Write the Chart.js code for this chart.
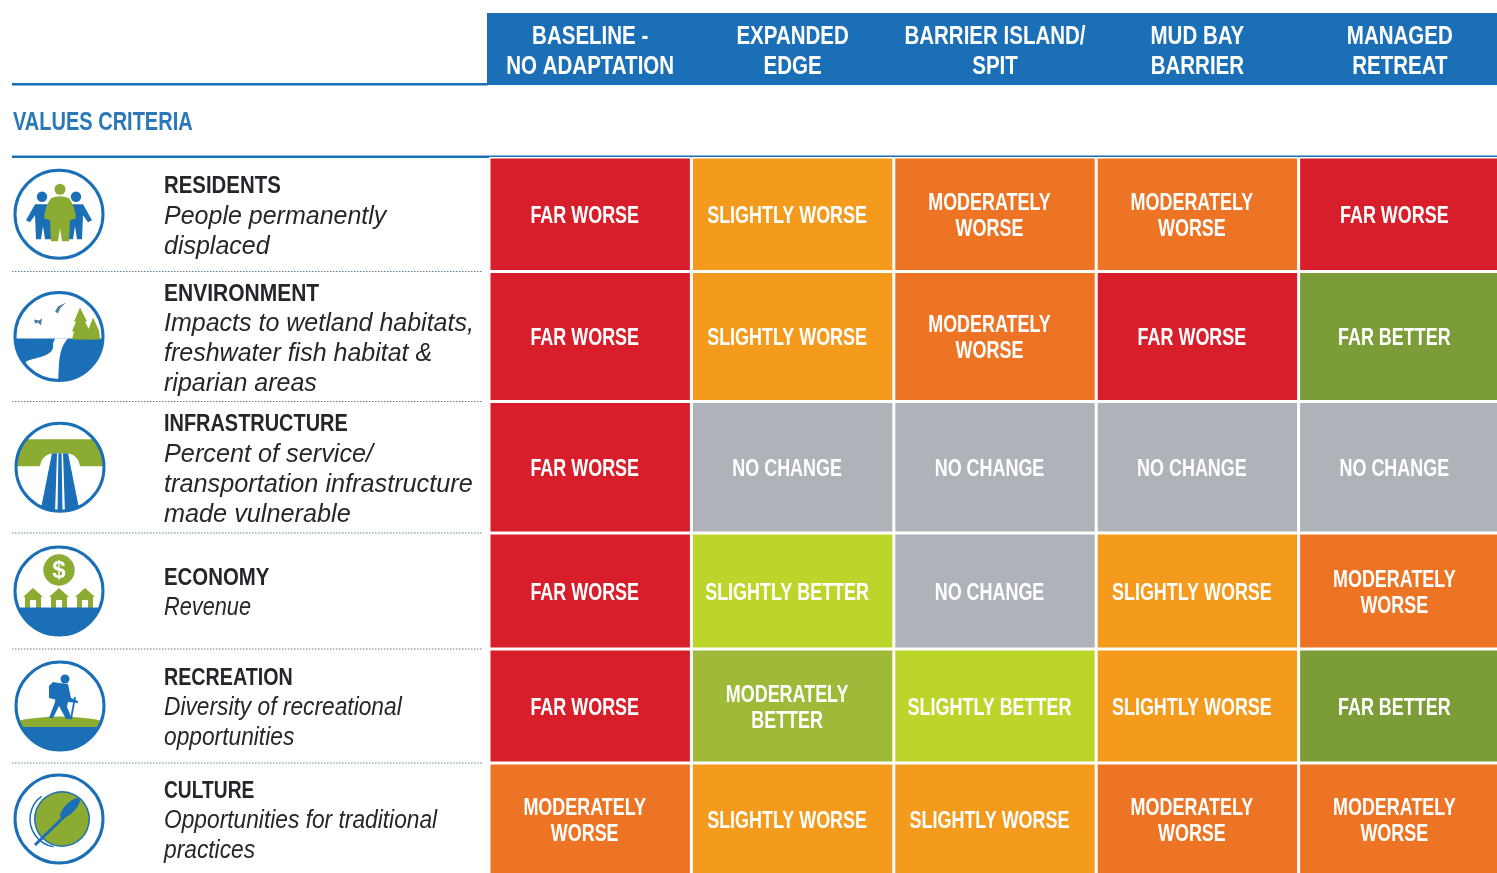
<!DOCTYPE html>
<html>
<head>
<meta charset="utf-8">
<title>Values criteria</title>
<script src="https://cdn.jsdelivr.net/npm/chart.js@4/dist/chart.umd.js"></script>
<style>
  html, body { margin: 0; padding: 0; background: #fff; overflow: hidden; }
  canvas { display: block; }
</style>
</head>
<body>
<canvas id="chart" width="1510" height="880"></canvas>
<script>
const categories = [
  ['BASELINE -', 'NO ADAPTATION'],
  ['EXPANDED', 'EDGE'],
  ['BARRIER ISLAND/', 'SPIT'],
  ['MUD BAY', 'BARRIER'],
  ['MANAGED', 'RETREAT']
];

const criteria = ['RESIDENTS', 'ENVIRONMENT', 'INFRASTRUCTURE', 'ECONOMY', 'RECREATION', 'CULTURE'];
const criteriaNotes = [
  ['People permanently', 'displaced'],
  ['Impacts to wetland habitats,', 'freshwater fish habitat &', 'riparian areas'],
  ['Percent of service/', 'transportation infrastructure', 'made vulnerable'],
  ['Revenue'],
  ['Diversity of recreational', 'opportunities'],
  ['Opportunities for traditional', 'practices']
];

const residents = ['FAR WORSE', 'SLIGHTLY WORSE', 'MODERATELY WORSE', 'MODERATELY WORSE', 'FAR WORSE'];
const environment = ['FAR WORSE', 'SLIGHTLY WORSE', 'MODERATELY WORSE', 'FAR WORSE', 'FAR BETTER'];
const infrastructure = ['FAR WORSE', 'NO CHANGE', 'NO CHANGE', 'NO CHANGE', 'NO CHANGE'];
const economy = ['FAR WORSE', 'SLIGHTLY BETTER', 'NO CHANGE', 'SLIGHTLY WORSE', 'MODERATELY WORSE'];
const recreation = ['FAR WORSE', 'MODERATELY BETTER', 'SLIGHTLY BETTER', 'SLIGHTLY WORSE', 'FAR BETTER'];
const culture = ['MODERATELY WORSE', 'SLIGHTLY WORSE', 'SLIGHTLY WORSE', 'MODERATELY WORSE', 'MODERATELY WORSE'];
const ratings = [residents, environment, infrastructure, economy, recreation, culture];

// row heights differ in the picture, so rows span ranges on the y scale
const rowSpans = [114.5, 130, 131.5, 116, 114, 112];

const ratingColors = {
  'FAR WORSE': '#d81e2b',
  'MODERATELY WORSE': '#ec7424',
  'SLIGHTLY WORSE': '#f49b1e',
  'NO CHANGE': '#aeb3b9',
  'SLIGHTLY BETTER': '#bdd52a',
  'MODERATELY BETTER': '#9fb938',
  'FAR BETTER': '#7c9c38'
};
const ratingLines = {
  'MODERATELY WORSE': ['MODERATELY', 'WORSE'],
  'MODERATELY BETTER': ['MODERATELY', 'BETTER']
};

const BLUE = '#1a6fb7';
const GREEN = '#8cab33';
const SANS = '"Liberation Sans", sans-serif';

// how far each row's text is squeezed to match the condensed original
const titleSqueeze = [0.85, 0.875, 0.83, 0.85, 0.82, 0.8];
const noteSqueeze = [1, 1, 1.01, 0.87, 0.91, 0.91];

let rowStart = 0;
const rowRanges = rowSpans.map(h => {
  const r = [rowStart, rowStart + h];
  rowStart += h;
  return r;
});

const datasets = ratings.map((row, i) => ({
  label: criteria[i],
  data: row.map(() => rowRanges[i]),
  backgroundColor: row.map(r => ratingColors[r]),
  borderColor: '#fff',
  borderWidth: 1.5,
  borderSkipped: false,
  inflateAmount: 0,
  grouped: false,
  barPercentage: 1,
  categoryPercentage: 1
}));

// fillText's maxWidth squeezes the face horizontally, above 1 it does nothing
function squeezed(ctx, text, x, y, squeeze) {
  const width = ctx.measureText(text).width;
  if (squeeze > 1) {
    ctx.save();
    ctx.translate(x, y);
    ctx.scale(squeeze, 1);
    ctx.fillText(text, 0, 0);
    ctx.restore();
  } else {
    ctx.fillText(text, x, y, width * squeeze);
  }
}

// icon helpers, coordinates relative to the circle centre
function shape(ctx, color, pts) {
  ctx.fillStyle = color;
  ctx.beginPath();
  pts.forEach((p, i) => i ? ctx.lineTo(p[0], p[1]) : ctx.moveTo(p[0], p[1]));
  ctx.closePath();
  ctx.fill();
}

function disc(ctx, color, x, y, r) {
  ctx.fillStyle = color;
  ctx.beginPath();
  ctx.arc(x, y, r, 0, Math.PI * 2);
  ctx.fill();
}

function sidePerson(ctx, dir) {
  disc(ctx, BLUE, dir * 17, -17.5, 5.2);
  shape(ctx, BLUE, [
    [dir * 8, -10], [dir * 24, -10], [dir * 33, 6], [dir * 29, 8], [dir * 24, 1],
    [dir * 23, 25], [dir * 18, 25], [dir * 16, 12], [dir * 14, 25], [dir * 8, 25]
  ]);
}

const iconDraw = [
  ctx => {
    sidePerson(ctx, -1);
    sidePerson(ctx, 1);
    disc(ctx, GREEN, 1, -25, 5.5);
    ctx.fillStyle = GREEN;
    ctx.beginPath();
    ctx.moveTo(-8, -16);
    ctx.quadraticCurveTo(1, -20, 10, -16);
    ctx.quadraticCurveTo(16, -8, 17, 4);
    ctx.lineTo(11, 6);
    ctx.lineTo(10, 27);
    ctx.lineTo(3, 27);
    ctx.lineTo(1, 14);
    ctx.lineTo(-1, 27);
    ctx.lineTo(-8, 27);
    ctx.lineTo(-9, 6);
    ctx.lineTo(-15, 4);
    ctx.quadraticCurveTo(-14, -8, -8, -16);
    ctx.closePath();
    ctx.fill();
  },
  ctx => {
    ctx.fillStyle = BLUE;
    ctx.fillRect(-45, 2, 90, 44);
    ctx.fillStyle = '#fff';
    ctx.beginPath();
    ctx.moveTo(-4, 2);
    ctx.lineTo(9, 2);
    ctx.bezierCurveTo(3, 8, 1, 16, 0, 27);
    ctx.lineTo(-1, 46);
    ctx.lineTo(-40, 46);
    ctx.lineTo(-33, 25);
    ctx.bezierCurveTo(-20, 20, -4, 20, -6, 7);
    ctx.closePath();
    ctx.fill();
    shape(ctx, GREEN, [[21, -29], [15, -15], [17, -15], [13, -5], [15, -5], [13, 3], [32, 3], [29, -5], [31, -5], [26, -15], [28, -15]]);
    shape(ctx, GREEN, [[34, -19], [29, -6], [28, 3], [41, 3], [40, -6]]);
    shape(ctx, '#4b7f9f', [[-4, -25], [-1, -30], [7, -34], [1, -28], [-1, -23]]);
    shape(ctx, '#4b7f9f', [[-25, -17], [-20, -16], [-17, -18], [-18, -11], [-21, -14], [-24, -13]]);
  },
  ctx => {
    ctx.fillStyle = GREEN;
    ctx.beginPath();
    ctx.moveTo(-45, -28);
    ctx.lineTo(45, -28);
    ctx.lineTo(45, -1);
    ctx.lineTo(20, -1);
    ctx.quadraticCurveTo(18, -14, 4, -14);
    ctx.lineTo(-4, -14);
    ctx.quadraticCurveTo(-18, -14, -20, -1);
    ctx.lineTo(-45, -1);
    ctx.closePath();
    ctx.fill();
    shape(ctx, BLUE, [[-8, -14], [8, -14], [20, 46], [-20, 46]]);
    shape(ctx, '#fff', [[-3, -14], [-1.6, -14], [-2.5, 46], [-5, 46]]);
    shape(ctx, '#fff', [[1.6, -14], [3, -14], [5, 46], [2.5, 46]]);
  },
  ctx => {
    disc(ctx, GREEN, 0, -21, 15.7);
    ctx.fillStyle = '#fff';
    ctx.font = 'bold 24px ' + SANS;
    ctx.textAlign = 'center';
    ctx.textBaseline = 'middle';
    ctx.fillText('$', 0, -20);
    [-26, 0, 26].forEach(x => {
      shape(ctx, GREEN, [[x, -3], [x + 10, 6], [x + 8, 6], [x + 8, 17], [x + 3, 17], [x + 3, 9], [x - 3, 9], [x - 3, 17], [x - 8, 17], [x - 8, 6], [x - 10, 6]]);
    });
    ctx.fillStyle = BLUE;
    ctx.fillRect(-46, 16.5, 92, 32);
  },
  ctx => {
    ctx.fillStyle = GREEN;
    ctx.beginPath();
    ctx.moveTo(-44, 15);
    ctx.quadraticCurveTo(0, 6, 44, 15);
    ctx.lineTo(44, 24);
    ctx.lineTo(-44, 24);
    ctx.closePath();
    ctx.fill();
    ctx.fillStyle = BLUE;
    ctx.fillRect(-46, 21, 92, 26);
    disc(ctx, BLUE, 5, -27, 4.5);
    shape(ctx, BLUE, [[-1, -23], [8, -22], [11, -8], [18, -5], [18, -3], [8, -4], [7, 1], [12, 13], [6, 13], [-1, 0], [-7, 12], [-11, 12], [-5, -4], [-4, -12]]);
    shape(ctx, BLUE, [[-7, -24], [-1, -23], [-3, -6], [-11, -8], [-11, -20]]);
    ctx.strokeStyle = BLUE;
    ctx.lineWidth = 1.8;
    ctx.beginPath();
    ctx.moveTo(15, -9);
    ctx.lineTo(11, 13);
    ctx.stroke();
  },
  ctx => {
    disc(ctx, BLUE, 3, 0, 28);
    disc(ctx, GREEN, 3, 0, 26.5);
    ctx.strokeStyle = BLUE;
    ctx.lineWidth = 1.5;
    ctx.beginPath();
    ctx.arc(-1, 0, 28, Math.PI * 0.55, Math.PI * 1.3);
    ctx.stroke();
    ctx.lineWidth = 3;
    ctx.beginPath();
    ctx.moveTo(-24, 26);
    ctx.lineTo(12, -9);
    ctx.stroke();
    ctx.fillStyle = BLUE;
    ctx.beginPath();
    ctx.ellipse(11, -11, 5, 13, Math.PI * 0.25, 0, Math.PI * 2);
    ctx.fill();
  }
];
const iconCenterX = [59, 59, 60, 59, 60, 59];

const tablePlugin = {
  id: 'table',
  beforeDraw(chart) {
    const { ctx, scales: { y }, chartArea } = chart;
    ctx.save();
    ctx.fillStyle = '#fff';
    ctx.fillRect(0, 0, chart.width, chart.height);

    // header band and rules
    ctx.fillStyle = BLUE;
    ctx.fillRect(487, 13, chart.width - 487, 72);
    ctx.fillRect(12, 83, 476, 2.5);
    ctx.fillRect(12, chartArea.top - 1.5, chart.width - 12, 2.5);

    ctx.fillStyle = '#2a78b8';
    ctx.font = 'bold 25px ' + SANS;
    ctx.textAlign = 'left';
    ctx.textBaseline = 'middle';
    squeezed(ctx, 'VALUES CRITERIA', 13, 123, 0.8);

    rowRanges.forEach((range, i) => {
      const mid = y.getPixelForValue((range[0] + range[1]) / 2);
      const lines = [criteria[i], ...criteriaNotes[i]];
      let ly = mid + 2.5 - (lines.length - 1) * 15;
      lines.forEach((line, k) => {
        ctx.fillStyle = '#23262b';
        ctx.font = (k === 0 ? 'bold 24px ' : 'italic 25px ') + SANS;
        ctx.textAlign = 'left';
        ctx.textBaseline = 'middle';
        squeezed(ctx, line, 164, ly, k === 0 ? titleSqueeze[i] : noteSqueeze[i]);
        ly += 30;
      });

      if (i < rowRanges.length - 1) {
        const sep = y.getPixelForValue(range[1]);
        ctx.strokeStyle = '#5f7f96';
        ctx.lineWidth = 1;
        ctx.setLineDash([1.5, 1.5]);
        ctx.beginPath();
        ctx.moveTo(12, sep);
        ctx.lineTo(483, sep);
        ctx.stroke();
        ctx.setLineDash([]);
      }

      // icon in a clipped circle
      ctx.save();
      ctx.translate(iconCenterX[i], mid);
      ctx.save();
      ctx.beginPath();
      ctx.arc(0, 0, 44, 0, Math.PI * 2);
      ctx.clip();
      iconDraw[i](ctx);
      ctx.restore();
      ctx.strokeStyle = BLUE;
      ctx.lineWidth = 3;
      ctx.beginPath();
      ctx.arc(0, 0, 44, 0, Math.PI * 2);
      ctx.stroke();
      ctx.restore();
    });
    ctx.restore();
  },
  afterDatasetsDraw(chart) {
    const { ctx, scales: { x } } = chart;
    ctx.save();
    ctx.fillStyle = '#fff';
    ctx.textAlign = 'center';
    ctx.textBaseline = 'middle';

    // column headers on the x scale's tick positions
    ctx.font = 'bold 25px ' + SANS;
    categories.forEach((lines, j) => {
      lines.forEach((line, k) => {
        squeezed(ctx, line, x.getPixelForTick(j), 37 + k * 30, 0.82);
      });
    });

    ctx.font = 'bold 23px ' + SANS;
    ratings.forEach((row, i) => {
      const bars = chart.getDatasetMeta(i).data;
      row.forEach((r, j) => {
        const bar = bars[j].getProps(['x', 'y', 'base'], true);
        const lines = ratingLines[r] || [r];
        const cy = (bar.y + bar.base) / 2 + 2.5;
        lines.forEach((line, k) => {
          // cell text sits a little left of the cell centre in the original
          squeezed(ctx, line, bar.x - 5.5, cy + (k - (lines.length - 1) / 2) * 26, 0.78);
        });
      });
    });
    ctx.restore();
  }
};

new Chart(document.getElementById('chart'), {
  type: 'bar',
  data: { labels: categories, datasets },
  options: {
    responsive: false,
    animation: false,
    layout: { padding: { top: 157, left: 489, right: 9, bottom: 5 } },
    plugins: { legend: { display: false }, tooltip: { enabled: false } },
    scales: {
      x: {
        position: 'top',
        grid: { display: false, drawTicks: false },
        border: { display: false },
        ticks: { display: false }
      },
      y: {
        display: false,
        reverse: true,
        min: 0,
        max: rowStart
      }
    }
  },
  plugins: [tablePlugin]
});
</script>
</body>
</html>
